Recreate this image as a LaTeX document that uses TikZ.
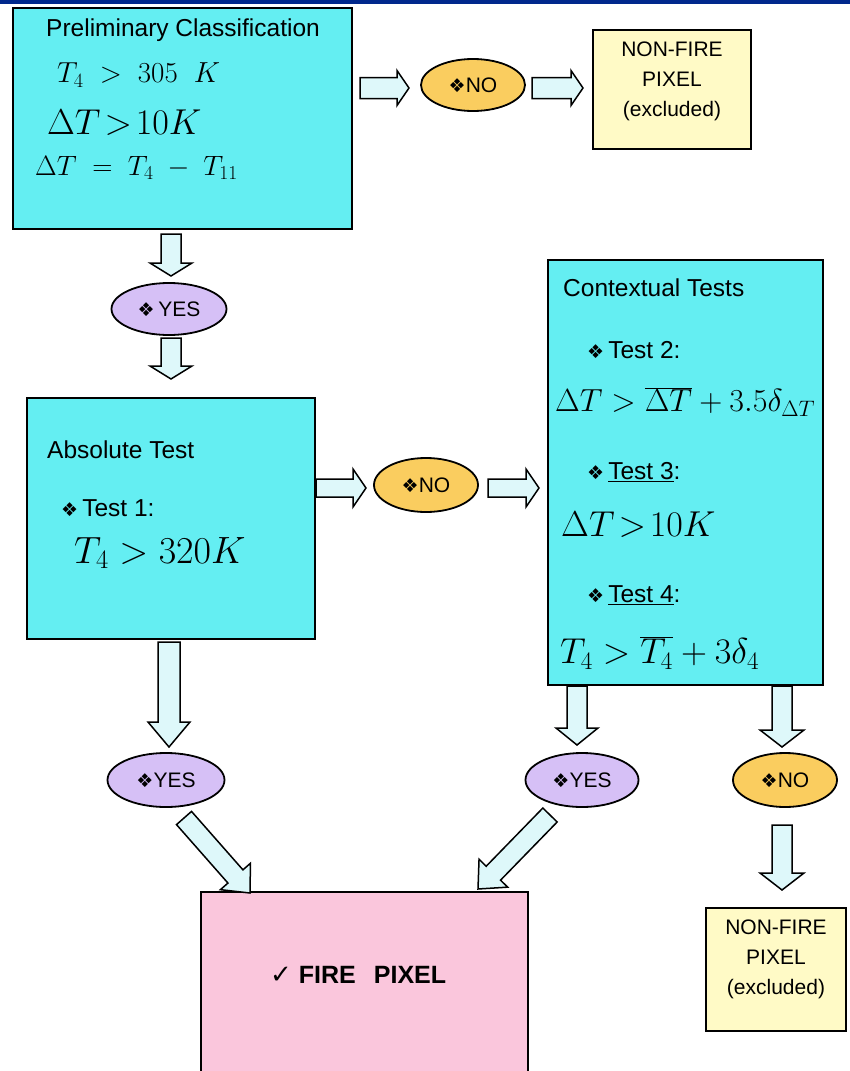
\RequirePackage{fix-cm}
\documentclass[tikz,border=0pt]{standalone}
\usepackage{fontspec}
\setmainfont{Liberation Sans}
\newfontfamily\dejavu{DejaVu Sans}
\usetikzlibrary{calc,shapes.geometric}
\definecolor{boxcyan}{RGB}{100,238,242}
\definecolor{arrowfill}{RGB}{222,248,250}
\definecolor{nofill}{RGB}{250,205,95}
\definecolor{yesfill}{RGB}{214,192,246}
\definecolor{nffill}{RGB}{255,250,198}
\definecolor{firefill}{RGB}{250,198,220}
\definecolor{topband}{RGB}{0,40,140}
\newcommand\dia{{\dejavu\fontsize{19}{19}\selectfont ❖}}
\pgfkeys{/ba/.is family, /ba/s/.initial=10pt, /ba/hw/.initial=21pt, /ba/hl/.initial=13pt}
\tikzset{
  cbox/.style={draw=black, line width=2pt, fill=boxcyan, inner sep=0pt},
  nfbox/.style={draw=black, line width=1.8pt, fill=nffill, inner sep=0pt},
  nobub/.style={ellipse, draw=black, line width=1.8pt, fill=nofill, inner sep=0pt,
     font=\fontsize{21}{24}\selectfont},
  yesbub/.style={ellipse, draw=black, line width=1.8pt, fill=yesfill, inner sep=0pt,
     font=\fontsize{21}{24}\selectfont},
  hd/.style={inner sep=0pt, anchor=west, font=\fontsize{24.5}{28}\selectfont},
  mth/.style={inner sep=0pt, anchor=west, font=\fontsize{#1}{#1}\selectfont},
  nftext/.style={inner sep=0pt, align=center, font=\fontsize{21}{30}\selectfont},
  barrow/.style={draw=black, line width=1.5pt, fill=arrowfill, line join=miter,
    to path={let \p1=(\tikztostart), \p2=(\tikztotarget),
      \n2={veclen(\x2-\x1,\y2-\y1)-\pgfkeysvalueof{/ba/hl}},
      \n3={\pgfkeysvalueof{/ba/s}}, \n4={\pgfkeysvalueof{/ba/hw}},
      \p3=($(\p1)!\n2!(\p2)$) in
      ($(\p1)!\n3!90:(\p2)$) -- ($(\p3)!\n3!90:(\p2)$) -- ($(\p3)!\n4!90:(\p2)$)
      -- (\p2) -- ($(\p3)!\n4!-90:(\p2)$) -- ($(\p3)!\n3!-90:(\p2)$)
      -- ($(\p1)!\n3!-90:(\p2)$) -- cycle}},
}
\begin{document}
\begin{tikzpicture}[x=1pt,y=-1pt]
\useasboundingbox (0,0) rectangle (850,1071);
\clip (0,0) rectangle (850,1071);
\fill[topband] (0,0) rectangle (850,3.5);

% boxes
\node[cbox, minimum width=339, minimum height=221] (b1) at (182.5,118.5) {};
\node[nfbox, minimum width=158, minimum height=119] (nf1) at (672,89.5) {};
\node[nobub, minimum width=104, minimum height=52] (no1) at (473,85) {\dia NO};
\node[yesbub, minimum width=115, minimum height=52] (yes1) at (169,309) {\dia\,YES};
\node[cbox, minimum width=288, minimum height=241] (b2) at (171,518.5) {};
\node[nobub, minimum width=104, minimum height=54] (no2) at (426,485) {\dia NO};
\node[cbox, minimum width=275, minimum height=425] (b3) at (685.5,472.5) {};
\node[yesbub, minimum width=117, minimum height=54] (yes2) at (166,780) {\dia YES};
\node[yesbub, minimum width=113, minimum height=54] (yes3) at (582,780) {\dia YES};
\node[nobub, minimum width=104, minimum height=54] (no3) at (785,780) {\dia NO};
\node[draw=black, line width=1.5pt, fill=firefill, minimum width=327, minimum height=190,
      inner sep=0pt] (fire) at (364.5,987) {};
\node[nfbox, minimum width=140, minimum height=123] (nf2) at (776,969.5) {};

% texts in box 1
\node[hd] (t1) at (46,30) {Preliminary Classification};
\node[mth=29] (t2) at (57,75) {$T_4\;>\;305\;\;K$};
\node[mth=36] (t3) at (47,123) {$\Delta T\!>\!10K$};
\node[mth=28] (t4) at (35,168) {$\Delta T\;=\;T_4\;-\;T_{11}$};
\node[nftext] (nft1) at (672,81) {NON-FIRE\\PIXEL\\(excluded)};

% texts in box 2
\node[hd] (t5) at (47,450) {Absolute Test};
\node[hd] (t6) at (61,508) {\dia\,Test 1:};
\node[mth=38] (t7) at (74,553) {$T_4 > 320K$};

% texts in box 3
\node[hd] (t8) at (563,288) {Contextual Tests};
\node[hd] (t9) at (587,350) {\dia\,Test 2:};
\node[mth=32] (t10) at (555,402) {$\Delta T > \overline{\Delta T} + 3.5\delta_{\Delta T}$};
\node[hd] (t11) at (587,472) {\dia\,\underline{Test 3}:};
\node[mth=36] (t12) at (561,525) {$\Delta T\!>\!10K$};
\node[hd] (t13) at (587,595) {\dia\,\underline{Test 4}:};
\node[mth=36] (t14) at (560,653) {$T_4 > \overline{T_4} + 3\delta_4$};

% fire / non-fire texts
\node[inner sep=0pt, anchor=west, font=\fontsize{25}{28}\selectfont\bfseries] (ft) at (270,975)
  {{\dejavu\mdseries\fontsize{26}{26}\selectfont ✓}\;FIRE\;\;\,PIXEL};
\node[nftext] (nft2) at (776,959) {NON-FIRE\\PIXEL\\(excluded)};

% connector anchor points
\coordinate (a1s) at (171,234);  \coordinate (a1e) at (171,276);
\coordinate (a2s) at (171,338);  \coordinate (a2e) at (171,379);
\coordinate (a3s) at (360,88);   \coordinate (a3e) at (409,88);
\coordinate (a4s) at (532,88);   \coordinate (a4e) at (583,88);
\coordinate (a5s) at (316,488);  \coordinate (a5e) at (366,488);
\coordinate (a6s) at (488,488);  \coordinate (a6e) at (539,488);
\coordinate (a7s) at (169,642);  \coordinate (a7e) at (169,747);
\coordinate (a8s) at (577,686);  \coordinate (a8e) at (577,745);
\coordinate (a9s) at (782,686);  \coordinate (a9e) at (782,747);
\coordinate (a10s) at (782,825); \coordinate (a10e) at (782,890);
\coordinate (a11s) at (184,818); \coordinate (a11e) at (250,893);
\coordinate (a12s) at (550,815); \coordinate (a12e) at (478,889);

% block arrows
\draw[barrow] (a1s) to (a1e);
\draw[barrow] (a2s) to (a2e);
\draw[barrow, /ba/s=10.5pt, /ba/hw=17.5pt, /ba/hl=12pt] (a3s) to (a3e);
\draw[barrow, /ba/s=10.5pt, /ba/hw=17.5pt, /ba/hl=12pt] (a4s) to (a4e);
\draw[barrow, /ba/s=9pt, /ba/hw=19pt, /ba/hl=13pt] (a5s) to (a5e);
\draw[barrow, /ba/s=9pt, /ba/hw=19pt, /ba/hl=13pt] (a6s) to (a6e);
\draw[barrow, /ba/s=11pt, /ba/hw=21pt, /ba/hl=25pt] (a7s) to (a7e);
\draw[barrow, /ba/s=10pt, /ba/hw=21pt, /ba/hl=17pt] (a8s) to (a8e);
\draw[barrow, /ba/s=10pt, /ba/hw=22pt, /ba/hl=17pt] (a9s) to (a9e);
\draw[barrow, /ba/s=10pt, /ba/hw=22pt, /ba/hl=17pt] (a10s) to (a10e);
\draw[barrow, /ba/s=10pt, /ba/hw=20pt, /ba/hl=22pt] (a11s) to (a11e);
\draw[barrow, /ba/s=10pt, /ba/hw=20pt, /ba/hl=22pt] (a12s) to (a12e);
\end{tikzpicture}
\end{document}
